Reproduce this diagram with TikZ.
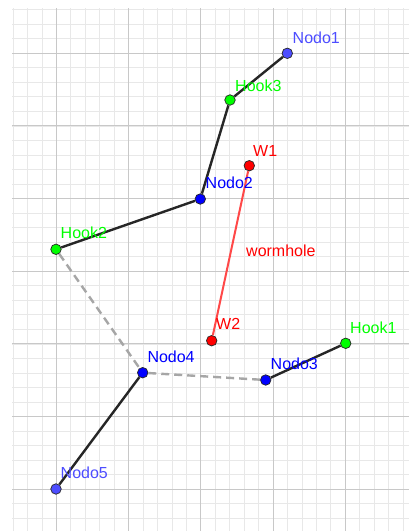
\documentclass[tikz,border=0pt]{standalone}
\usepackage{fontspec}
\setmainfont{Liberation Sans}
\definecolor{ltblue}{HTML}{4D4DFF}
\definecolor{dkblue}{HTML}{0000FF}
\definecolor{hgreen}{HTML}{00FF00}
\definecolor{wred}{HTML}{FF0000}
\definecolor{wline}{HTML}{FF4848}
\definecolor{edgecol}{HTML}{262626}
\definecolor{dashcol}{HTML}{A6A6A6}
\definecolor{minorcol}{HTML}{E8E8E8}
\definecolor{majorcol}{HTML}{C8C8C8}
\begin{document}
\begin{tikzpicture}[x=1pt,y=-1pt,
  minorline/.style={draw=minorcol, line width=0.9pt},
  majorline/.style={draw=majorcol, line width=1pt},
  pt/.style={circle, draw=black!85, line width=0.7pt, minimum size=10.5pt, inner sep=0pt},
  ptlb/.style={pt, fill=ltblue},
  ptdb/.style={pt, fill=dkblue},
  ptgr/.style={pt, fill=hgreen},
  ptrd/.style={pt, fill=wred},
  lbl/.style={anchor=base west, inner sep=0pt, font=\fontsize{16}{16}\selectfont},
  seg/.style={draw=edgecol, line width=2.4pt},
  dseg/.style={draw=dashcol, line width=2.4pt, dash pattern=on 8pt off 5pt},
  wseg/.style={draw=wline, line width=2pt}
]
\useasboundingbox (0,0) rectangle (409,531);
\fill[white] (0,0) rectangle (409,531);
\begin{scope}
\clip (12,8) rectangle (409,531);
\foreach \k in {-3,...,25} \draw[minorline] ({56.5+14.44*\k},8) -- ({56.5+14.44*\k},531);
\foreach \k in {-3,...,33} \draw[minorline] (12,{53.3+14.534*\k}) -- (409,{53.3+14.534*\k});
\foreach \k in {0,...,4} \draw[majorline] ({56.5+72.2*\k},8) -- ({56.5+72.2*\k},531);
\foreach \k in {0,...,6} \draw[majorline] (12,{53.3+72.67*\k}) -- (409,{53.3+72.67*\k});
\end{scope}

% points
\node[ptlb] (n1) at (287.3,53.3) {};
\node[ptgr] (h3) at (230,100) {};
\node[ptdb] (n2) at (200.3,199) {};
\node[ptgr] (h2) at (56,249.3) {};
\node[ptrd] (w1) at (249.3,165.7) {};
\node[ptrd] (w2) at (211.7,340.7) {};
\node[ptgr] (h1) at (345.7,343.3) {};
\node[ptdb] (n4) at (142.7,372.7) {};
\node[ptdb] (n3) at (265.7,380) {};
\node[ptlb] (n5) at (56,489) {};

% connectors
\draw[seg] (n1) -- (h3);
\draw[seg] (h3) -- (n2);
\draw[seg] (n2) -- (h2);
\draw[dseg] (h2) -- (n4);
\draw[dseg] (n4) -- (n3);
\draw[seg] (n3) -- (h1);
\draw[seg] (n4) -- (n5);
\draw[wseg] (w1) -- (w2);

% labels
\node[lbl, text=ltblue] (ln1) at (292.5,43.7) {Nodo1};
\node[lbl, text=hgreen] (lh3) at (235,91) {Hook3};
\node[lbl, text=wred] (lw1) at (253,156) {W1};
\node[lbl, text=dkblue] (ln2) at (205.5,188.7) {Nodo2};
\node[lbl, text=hgreen] (lh2) at (60.5,238.7) {Hook2};
\node[lbl, text=wred] (lworm) at (246,256) {wormhole};
\node[lbl, text=wred] (lw2) at (216,329.7) {W2};
\node[lbl, text=hgreen] (lh1) at (350,333.7) {Hook1};
\node[lbl, text=dkblue] (ln4) at (147.3,362.7) {Nodo4};
\node[lbl, text=dkblue] (ln3) at (270.5,369.4) {Nodo3};
\node[lbl, text=ltblue] (ln5) at (60.5,478.7) {Nodo5};
\end{tikzpicture}
\end{document}
